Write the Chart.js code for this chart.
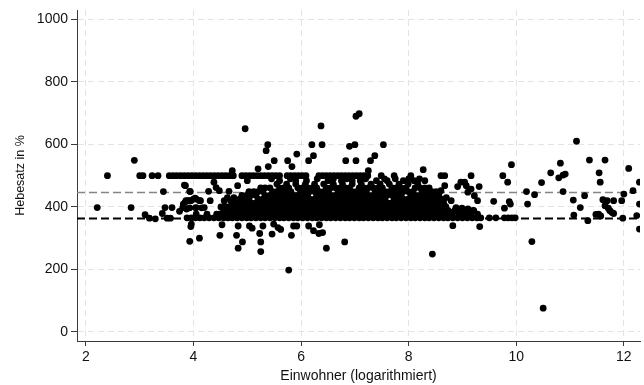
<!DOCTYPE html>
<html>
<head>
<meta charset="utf-8">
<script src="https://cdn.jsdelivr.net/npm/chart.js@4"></script>
<style>
  html, body { margin: 0; padding: 0; background: #fff; }
  #wrap { width: 644px; height: 385px; }
</style>
</head>
<body>
<div id="wrap"><canvas id="grafico"></canvas></div>
<script>
// Achsen
const xTicks = [2, 4, 6, 8, 10, 12];
const yTicks = [0, 200, 400, 600, 800, 1000];
const xMin = 1.834, xMax = 12.3;
const yMin = -29, yMax = 1030;

// Referenzlinien (Mittelwert / Median)
const linieGrau = 446;
const linieSchwarz = 363;

// einzelne Punkte oberhalb der Masse
const ausreisserOben = [
  [4.96,650],[5.38,599],[5.35,580],[5.50,548],[5.39,529],[5.20,522],[5.75,548],[5.83,529],
  [5.92,569],[6.14,548],[6.20,599],[6.23,564],[6.37,659],[6.39,599],[6.90,594],[7.00,599],
  [7.02,690],[7.08,698],[6.83,548],[7.02,548],[7.29,548],[7.37,564],[7.53,599],[7.25,516],
  [8.27,519],[4.72,516],[2.90,549]
];

// einzelne Punkte unterhalb der Masse
const ausreisserUnten = [
  [4.53,343],[4.49,309],[4.83,339],[4.80,309],[4.91,288],[4.83,268],[5.04,339],[5.09,332],
  [5.29,339],[5.23,315],[5.25,288],[5.25,257],[5.46,313],[5.49,345],[5.57,334],[5.62,328],
  [5.82,309],[5.86,339],[5.92,339],[6.14,339],[6.23,324],[6.33,315],[6.40,318],[6.34,343],
  [6.47,268],[4.11,300],[5.77,198],[3.93,290],[6.81,288],[8.44,249],[3.95,337],[3.96,345],
  [8.82,340],[9.32,337],[10.29,289],[10.50,76]
];

// rechter Rand (große Gemeinden)
const rechts = [
  [11.12,610],[11.36,550],[11.65,550],[10.82,540],[10.64,509],[10.79,493],[10.87,502],[10.91,505],
  [10.47,478],[9.91,535],[9.75,500],[9.84,479],[9.16,500],[11.54,509],[11.56,479],[12.09,523],
  [12.29,479],[10.19,449],[10.34,439],[10.87,449],[10.21,409],[9.87,417],[9.89,409],[9.58,418],
  [9.78,396],[11.06,422],[11.19,398],[11.27,436],[11.07,374],[11.33,356],[11.48,376],[11.57,371],
  [11.53,377],[11.61,423],[11.69,420],[11.81,420],[11.65,404],[11.71,396],[11.74,388],[11.78,382],
  [11.81,379],[11.96,420],[12.00,441],[12.17,452],[11.98,364],[12.24,372],[12.29,329],[12.29,409],
  [8.67,468],[8.60,452],[8.70,430],[8.79,420],[8.91,465],[8.97,479],[9.04,479],[9.07,468],
  [9.10,447],[9.16,457],[9.22,436],[9.28,420],[9.31,465],[8.88,398],[8.99,396],[9.10,394],
  [9.21,388],[8.73,385],[8.84,385],[8.95,385],[9.13,385]
];

// linker Rand (kleine Gemeinden)
const links = [
  [2.21,398],[2.84,398],[3.10,375],[3.18,364],[3.29,362],[3.44,449],[3.47,398],[3.60,398],
  [3.42,379],[3.51,364],[3.57,364],[3.74,386],[3.80,398],[3.84,414],[3.83,470],[3.94,449],
  [3.89,420],[4.00,425],[4.05,398],[3.93,420],[4.03,428],[4.13,420],[3.81,409],[3.87,393],
  [3.93,397],[4.04,397],[4.15,397],[3.85,468],[3.93,450],[3.86,420],[3.95,420],[4.05,425],
  [4.11,420],[4.20,398],[4.28,450],[4.31,420],[4.38,479],[4.42,462],[4.48,452],[4.51,400],
  [4.57,420],[4.63,430],[4.66,450],[4.69,420],[4.75,430],[4.82,468],[4.80,409],[4.66,398],
  [4.60,388],[4.48,377]
];

// Zeile bei 500 %
const x500 = [2.40,3.00,3.06,3.23,3.34,3.55,3.62,3.69,3.76,3.83,3.90,3.97,4.04,4.11,4.18,4.25,4.32,4.39,
  4.46,4.53,4.60,4.67,4.74,4.90,4.97,5.04,5.11,5.18,5.25,5.32,5.39,5.46,5.53,5.60,5.74,5.81,5.88,
  5.95,6.02,6.09,6.33,6.40,6.47,6.54,6.61,6.68,6.75,6.82,6.89,6.96,7.03,7.10,7.17,7.24,7.49,7.73,
  8.04,8.60,8.67];

// dichte Masse, Zeile für Zeile
const x490 = [5.45,5.80,6.30,6.60,6.85,7.20,7.55,7.75,8.00,8.20];
const x484 = [5.00,5.60,5.90,6.10,6.50,6.75,6.95,7.10,7.40,7.60,7.90,8.10,8.30];
const x473 = [5.55,5.73,5.90,6.08,6.25,6.42,6.60,6.77,6.95,7.12,7.30,7.47,7.64,7.82,7.99,8.17];
const x461 = [5.25,5.33,5.42,5.60,5.68,5.77,5.94,6.03,6.12,6.21,6.29,6.47,6.55,6.64,6.73,6.82,6.90,
  7.08,7.16,7.25,7.34,7.43,7.51,7.69,7.77,7.86,7.95,8.12,8.21,8.30,8.38];
const x449 = [5.03,5.12,5.20,5.29,5.47,5.55,5.64,5.73,5.81,5.99,6.08,6.16,6.25,6.34,6.42,6.51,6.69,
  6.77,6.86,6.95,7.03,7.12,7.21,7.38,7.47,7.56,7.64,7.73,7.82,7.90,7.99,8.08,8.25,8.34,8.43,8.51];
const x437 = [4.90,4.99,5.07,5.16,5.33,5.42,5.51,5.60,5.68,5.77,5.86,5.94,6.03,6.12,6.29,6.38,6.47,
  6.55,6.64,6.73,6.82,6.90,6.99,7.08,7.16,7.25,7.34,7.43,7.51,7.60,7.69,7.77,7.86,8.04,8.12,8.21,
  8.30,8.38,8.47,8.56];
const x425 = [4.86,4.94,5.03,5.20,5.29,5.38,5.47,5.55,5.64,5.73,5.81,5.90,5.99,6.08,6.16,6.25,6.34,
  6.42,6.51,6.60,6.69,6.77,6.86,6.95,7.03,7.12,7.21,7.30,7.38,7.47,7.56,7.73,7.82,7.90,7.99,8.08,
  8.17,8.25,8.34,8.43,8.51,8.60];
const x413 = [4.72,4.81,4.90,4.99,5.07,5.16,5.25,5.33,5.42,5.51,5.60,5.68,5.77,5.86,5.94,6.03,6.12,
  6.21,6.29,6.38,6.47,6.55,6.64,6.73,6.82,6.90,6.99,7.08,7.16,7.25,7.34,7.43,7.51,7.60,7.69,7.77,
  7.86,7.95,8.04,8.12,8.21,8.30,8.38,8.47,8.56,8.65];
const x401 = [4.60,4.68,4.77,4.86,4.94,5.03,5.12,5.20,5.29,5.38,5.47,5.55,5.64,5.73,5.81,5.90,5.99,
  6.08,6.16,6.25,6.34,6.42,6.51,6.60,6.69,6.77,6.86,6.95,7.03,7.12,7.21,7.30,7.38,7.47,7.56,7.64,
  7.73,7.82,7.90,7.99,8.08,8.17,8.25,8.34,8.43,8.51,8.60,8.69];
const x389 = [4.56,4.64,4.72,4.81,4.90,4.99,5.07,5.16,5.25,5.33,5.42,5.51,5.60,5.68,5.77,5.86,5.94,
  6.03,6.12,6.21,6.29,6.38,6.47,6.55,6.64,6.73,6.82,6.90,6.99,7.08,7.16,7.25,7.34,7.43,7.51,7.60,
  7.69,7.77,7.86,7.95,8.04,8.12,8.21,8.30,8.38,8.47,8.56,8.65,8.73,8.86,9.02,9.20];
const x377 = [4.05,4.25,4.43,4.52,4.60,4.68,4.77,4.86,4.94,5.03,5.12,5.20,5.29,5.38,5.47,5.55,5.64,
  5.73,5.81,5.90,5.99,6.08,6.16,6.25,6.34,6.42,6.51,6.60,6.69,6.77,6.86,6.95,7.03,7.12,7.21,7.30,
  7.38,7.47,7.56,7.64,7.73,7.82,7.90,7.99,8.08,8.17,8.25,8.34,8.43,8.51,8.60,8.69,8.80,8.93,9.05,
  9.16,9.28];
const x365 = [3.88,3.96,4.04,4.12,4.20,4.29,4.38,4.47,4.56,4.64,4.72,4.81,4.90,4.99,5.07,5.16,5.25,
  5.33,5.42,5.51,5.60,5.68,5.77,5.86,5.94,6.03,6.12,6.21,6.29,6.38,6.47,6.55,6.64,6.73,6.82,6.90,
  6.99,7.08,7.16,7.25,7.34,7.43,7.51,7.60,7.69,7.77,7.86,7.95,8.04,8.12,8.21,8.30,8.38,8.47,8.56,
  8.65,8.73,8.82,8.91,9.00,9.09,9.18,9.27,9.34,9.50,9.62,9.78,9.85,9.92,9.98];

const zeilen = [[500, x500], [490, x490], [484, x484], [473, x473], [461, x461], [449, x449],
  [437, x437], [425, x425], [413, x413], [401, x401], [389, x389], [377, x377], [365, x365]];

// Punkte zusammensetzen
const punkte = [];
[ausreisserOben, ausreisserUnten, rechts, links].forEach((liste) => {
  liste.forEach(([x, y]) => punkte.push({ x, y }));
});
zeilen.forEach(([y, xs]) => {
  xs.forEach((x) => punkte.push({ x, y }));
});

const schrift = "'Liberation Sans', Arial, sans-serif";
const gitter = '#e4e4e4';
const achse = '#3a3a3a';

new Chart(document.getElementById('grafico'), {
  data: {
    datasets: [
      {
        type: 'scatter',
        data: punkte,
        pointRadius: 3.4,
        pointBorderWidth: 0,
        pointBackgroundColor: '#000',
        order: 0
      },
      {
        type: 'line',
        data: [{ x: xMin, y: linieGrau }, { x: xMax, y: linieGrau }],
        borderColor: '#858585',
        borderWidth: 1.6,
        borderDash: [8, 4],
        pointRadius: 0,
        order: 1
      },
      {
        type: 'line',
        data: [{ x: xMin, y: linieSchwarz }, { x: xMax, y: linieSchwarz }],
        borderColor: '#000',
        borderWidth: 2,
        borderDash: [8, 4],
        pointRadius: 0,
        order: 1
      }
    ]
  },
  options: {
    responsive: true,
    maintainAspectRatio: false,
    animation: false,
    events: [],
    layout: { padding: { top: 10, right: 0, left: 0, bottom: 0 } },
    plugins: { legend: { display: false }, tooltip: { enabled: false } },
    scales: {
      x: {
        type: 'linear',
        min: xMin,
        max: xMax,
        afterBuildTicks: (s) => { s.ticks = xTicks.map((v) => ({ value: v })); },
        afterFit: (s) => { s.height = 44; s.paddingLeft = 0; s.paddingRight = 0; },
        grid: { color: gitter, lineWidth: 1, tickColor: achse, tickLength: 5, tickBorderDash: [] },
        border: { color: achse, width: 1, dash: [6, 4] },
        ticks: {
          font: { family: schrift, size: 14 }, color: '#111', padding: 3,
          maxRotation: 0, autoSkip: false, callback: (v) => String(v)
        },
        title: {
          display: true,
          text: 'Einwohner (logarithmiert)',
          font: { family: schrift, size: 14 },
          color: '#111',
          padding: { top: 0, bottom: 0 }
        }
      },
      y: {
        type: 'linear',
        min: yMin,
        max: yMax,
        afterBuildTicks: (s) => { s.ticks = yTicks.map((v) => ({ value: v })); },
        afterFit: (s) => { s.width = 77; s.paddingTop = 0; s.paddingBottom = 0; },
        grid: { color: gitter, lineWidth: 1, tickColor: achse, tickLength: 6, tickBorderDash: [] },
        border: { color: achse, width: 1, dash: [6, 4] },
        ticks: {
          font: { family: schrift, size: 14 }, color: '#111', padding: 3,
          autoSkip: false, callback: (v) => String(v)
        },
        title: {
          display: true,
          text: 'Hebesatz in %',
          font: { family: schrift, size: 12.5 },
          color: '#111',
          padding: { top: 13, bottom: 0 }
        }
      }
    }
  }
});
</script>
</body>
</html>
